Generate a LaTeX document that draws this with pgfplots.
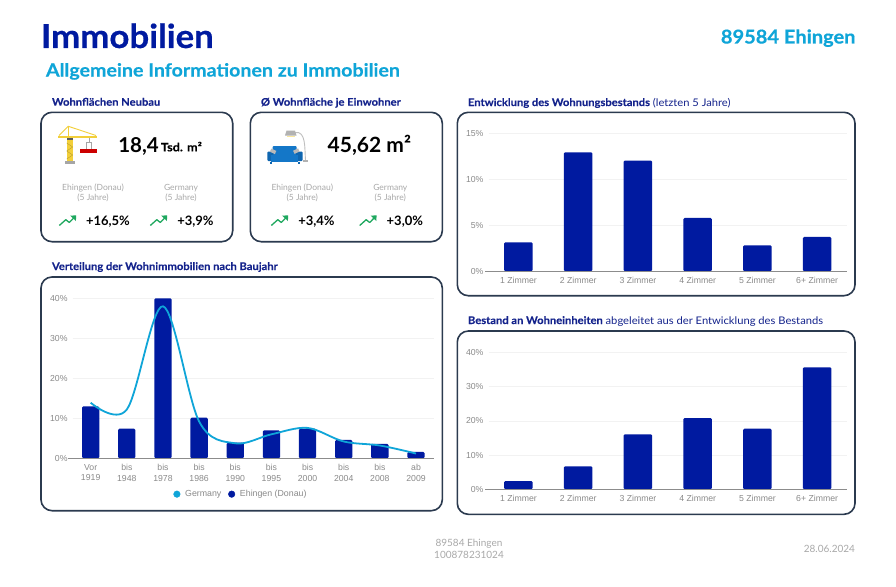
\documentclass[border=0pt]{standalone}
\usepackage{pgfplots}
\pgfplotsset{compat=1.18}
\usepackage{fontspec}
\setmainfont{Lato}
\newfontfamily\arial{Liberation Sans}
\newfontfamily\hA[FakeStretch=1.055,BoldFeatures={FakeBold=0.5}]{Lato}
\newfontfamily\hB[FakeStretch=1.09,BoldFeatures={FakeBold=0.3}]{Lato}
\newfontfamily\hC[FakeStretch=1.065,BoldFeatures={FakeBold=0.2}]{Lato}
\newfontfamily\hD[FakeStretch=1.1,BoldFeatures={FakeBold=0.2}]{Lato}
\definecolor{navy}{HTML}{001AA0}
\definecolor{sect}{HTML}{14238C}
\definecolor{cyanx}{HTML}{0FA5D8}
\definecolor{boxc}{HTML}{2B3A4F}
\definecolor{lgrey}{HTML}{A9A9A9}
\definecolor{tick}{HTML}{8A8A8A}
\definecolor{greenx}{HTML}{1FA85F}
\definecolor{craney}{HTML}{F2CF3A}
\definecolor{sofab}{HTML}{1477C8}
\definecolor{sofad}{HTML}{0F66B0}
\newcommand{\T}[5]{\node[anchor=#1,inner sep=0pt,outer sep=0pt] at (#2,#3) {\fontsize{#4}{#4}\selectfont #5};}
\newcommand{\Arrow}[2]{\begin{scope}[shift={(#1,#2)}]
 \draw[greenx,line width=1.3pt,line join=round] (0,5.5)--(6.5,-0.3)--(10,2.5)--(16,-3.6);
 \fill[greenx] (16.9,-4.6)--(10.9,-4.4)--(16.6,1)--cycle;
 \end{scope}}
\pgfplotsset{
 chartstyle/.style={
  scale only axis, anchor=south west,
  axis line style={draw=none}, major tick style={draw=none},
  ymajorgrids, major grid style={draw=black!5,line width=0.6pt},
  tick label style={font=\arial\fontsize{8.7}{10.3}\selectfont,text=tick},
  xtick=data, xtick distance=1,
  y tick label style={xshift=-1.5pt},
  x tick label style={align=center,yshift=-2.8pt},
  clip=false,
 },
 barst/.style={ybar,bar width=#1,bar shift=0pt,fill=navy,draw=none,rounded corners=1.3pt},
}
\begin{document}
\begin{tikzpicture}
\begin{scope}[x=1pt,y=-1pt]
\fill[white] (0,0) rectangle (896,586);
\foreach \a/\b/\c/\d in {41/112.3/232.7/241.7,250.3/112.3/442.3/241.7,41/277/442.3/510.7,457.3/112.3/855/295.7,457.3/331/855/514.3}
  \draw[boxc,line width=1.6pt,rounded corners=11pt] (\a,\b) rectangle (\c,\d);
\end{scope}

% left chart
\begin{axis}[chartstyle,at={(72.6pt,-458.3pt)},width=361.5pt,height=160pt,
 xmin=-0.5,xmax=9.5,ymin=0,ymax=40,
 xticklabels={Vor\\1919,bis\\1948,bis\\1978,bis\\1986,bis\\1990,bis\\1995,bis\\2000,bis\\2004,bis\\2008,ab\\2009},
 ytick={0,10,20,30,40},yticklabels={0\%,10\%,20\%,30\%,40\%},
 legend style={at={(0.466,-0.224)},anchor=center,draw=none,fill=none,legend columns=2,
   font=\arial\fontsize{8.8}{10}\selectfont,text=tick,inner sep=0pt,
   /tikz/every odd column/.style={column sep=3pt},
   /tikz/every even column/.style={column sep=5pt}},
 legend cell align=left,
]
\addlegendimage{only marks,mark=*,mark size=3.3pt,color=cyanx}
\addlegendentry{Germany}
\addlegendimage{only marks,mark=*,mark size=3.3pt,color=navy}
\addlegendentry{Ehingen (Donau)}
\addplot[barst=17.3pt,forget plot] coordinates {(0,13)(1,7.4)(2,40)(3,10.2)(4,3.9)(5,7)(6,7.4)(7,4.6)(8,3.6)(9,1.6)};
\addplot[cyanx,line width=1.8pt,smooth,tension=0.55,forget plot] coordinates {(0,13.9)(1,12.2)(2,38)(3,9.2)(4,3.75)(5,6)(6,7.6)(7,4.2)(8,3.2)(9,1.2)};
\end{axis}

% top right
\begin{axis}[chartstyle,at={(488.5pt,-271.3pt)},width=358.5pt,height=138pt,
 xmin=-0.5,xmax=5.5,ymin=0,ymax=15,
 xticklabels={1 Zimmer,2 Zimmer,3 Zimmer,4 Zimmer,5 Zimmer,6+ Zimmer},
 ytick={0,5,10,15},yticklabels={0\%,5\%,10\%,15\%},
]
\addplot[barst=28.7pt] coordinates {(0,3.15)(1,12.93)(2,12.03)(3,5.8)(4,2.83)(5,3.73)};
\end{axis}

% bottom right
\begin{axis}[chartstyle,at={(488.5pt,-489.3pt)},width=358.5pt,height=137pt,
 xmin=-0.5,xmax=5.5,ymin=0,ymax=40,
 xticklabels={1 Zimmer,2 Zimmer,3 Zimmer,4 Zimmer,5 Zimmer,6+ Zimmer},
 ytick={0,10,20,30,40},yticklabels={0\%,10\%,20\%,30\%,40\%},
]
\addplot[barst=28.7pt] coordinates {(0,2.4)(1,6.7)(2,16.05)(3,20.8)(4,17.7)(5,35.6)};
\end{axis}

\begin{scope}[x=1pt,y=-1pt]
% zero lines
\draw[black!45,line width=0.7pt] (68,458.3)--(434,458.3);
\draw[black!45,line width=0.7pt] (485,271.3)--(846.7,271.3);
\draw[black!45,line width=0.7pt] (485,489.3)--(846.7,489.3);

% headings
\T{base west}{41}{48}{33}{\color{navy}\hA\bfseries Immobilien}
\T{base east}{855.5}{43.5}{19}{\color{cyanx}\hA\bfseries 89584 Ehingen}
\T{base west}{46}{76.5}{18}{\color{cyanx}\hB\bfseries Allgemeine Informationen zu Immobilien}
\T{base west}{52}{105.7}{10.5}{\color{sect}\hC\bfseries Wohnflächen Neubau}
\T{base west}{261}{105.7}{10.5}{\color{sect}\hC\bfseries Ø Wohnfläche je Einwohner}
\T{base west}{52}{270}{10.5}{\color{sect}\hC\bfseries Verteilung der Wohnimmobilien nach Baujahr}
\T{base west}{468}{106}{10.5}{\color{sect}\hC\textbf{Entwicklung des Wohnungsbestands} (letzten 5 Jahre)}
\T{base west}{468}{324}{10.5}{\color{sect}\hC\textbf{Bestand an Wohneinheiten} abgeleitet aus der Entwicklung des Bestands}

% KPIs
\T{base west}{118.3}{152.7}{20.5}{\bfseries 18,4}
\T{base west}{161}{151.3}{11.5}{\hD\bfseries Tsd. m²}
\T{base west}{327.7}{152.7}{21}{\bfseries 45,62 m²}
\foreach \x/\n in {93/Ehingen (Donau),181/Germany,302.3/Ehingen (Donau),390.3/Germany}{
 \T{base}{\x}{190}{8.5}{\color{lgrey}\n}
 \T{base}{\x}{200.3}{8.5}{\color{lgrey}(5 Jahre)}
}
\T{base west}{86}{225.5}{13}{\bfseries +16,5\%}
\T{base west}{177.3}{225.5}{13}{\bfseries +3,9\%}
\T{base west}{298.3}{225.5}{13}{\bfseries +3,4\%}
\T{base west}{386.7}{225.5}{13}{\bfseries +3,0\%}
\Arrow{59.3}{220}\Arrow{150.3}{220}\Arrow{271.3}{220}\Arrow{359.7}{220}

% footer
\T{base}{469}{546.5}{10}{\color{lgrey}89584 Ehingen}
\T{base}{469}{558.5}{10}{\color{lgrey}100878231024}
\T{base east}{855}{552.5}{10}{\color{lgrey}28.06.2024}

% crane icon
\fill[gray!70] (65,160.7) rectangle (75,164.3);
\fill[craney] (66.7,140) rectangle (72.7,160.7);
\draw[craney!70!black,line width=0.3pt] (66.7,143)--(72.7,147)--(66.7,151)--(72.7,155)--(66.7,159);
\fill[black!65] (66.7,138) rectangle (72.7,140);
\fill[craney] (58,135.5) rectangle (96.5,138);
\draw[craney,line width=0.9pt] (59,135.5)--(68.3,126.3)--(96,135.5);
\fill[craney] (67.5,126.3) rectangle (69.3,136);
\draw[gray!70,line width=0.7pt] (86.5,149.3)--(86.5,142.5)--(91.2,142.5)--(91.2,149.3);
\draw[gray!70,line width=0.6pt] (88.8,138)--(88.8,142.5);
\fill[red!80!black] (80,149.3) rectangle (97.3,152.7);

% sofa icon
\draw[gray!50,line width=0.9pt] (295,132.5) to[out=10,in=95] (305.5,160);
\fill[gray!60] (286.5,130.7) -- (295,130.7) -- (296.5,135.5) -- (285,135.5)--cycle;
\fill[craney!50] (287,135.5) rectangle (295,136.3);
\fill[gray!60] (303.3,160) rectangle (308.3,162);
\fill[sofab,rounded corners=1pt] (272.7,146) rectangle (296.7,155);
\fill[sofad,rounded corners=1pt] (267.3,151.5) rectangle (273.5,161);
\fill[sofad,rounded corners=1pt] (296,151.5) rectangle (302.7,161);
\fill[sofab] (271,155) rectangle (298,161.5);
\fill[gray!55,rotate around={-25:(273,151)}] (270.5,149.5) rectangle (276,153);
\fill[gray!55,rotate around={25:(296,151)}] (293.5,149.5) rectangle (299,153);
\fill[sofad] (270,161.5) rectangle (272,163.5);
\fill[sofad] (298,161.5) rectangle (300,163.5);
\end{scope}
\end{tikzpicture}
\end{document}
